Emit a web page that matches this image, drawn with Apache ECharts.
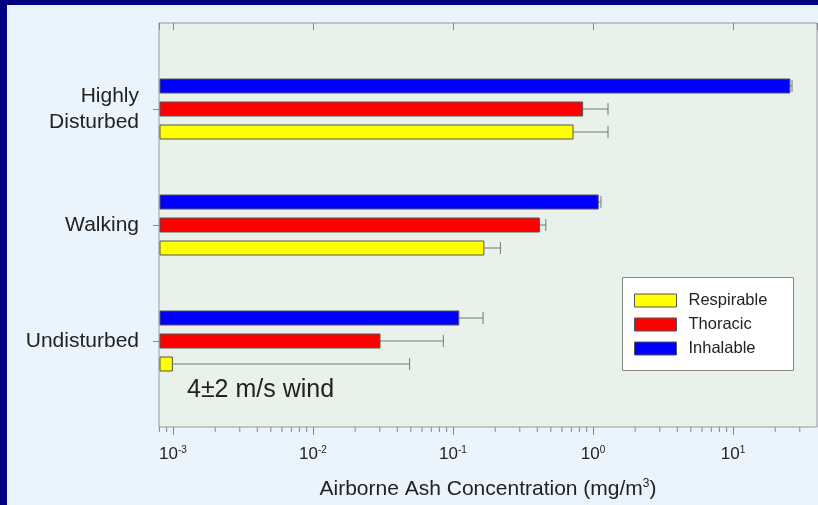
<!DOCTYPE html>
<html>
<head>
<meta charset="utf-8">
<script src="https://cdn.jsdelivr.net/npm/echarts@6/dist/echarts.min.js"></script>
<style>
  html, body { margin: 0; padding: 0; background: #000080; width: 818px; height: 505px; overflow: hidden; }
  #chart { position: absolute; left: 7px; top: 5px; width: 811px; height: 500px; background: #eaf4fc; }
</style>
</head>
<body>
<div id="chart"></div>
<script>
// ---- data (categories listed top to bottom) ----
const categories = ['Highly\nDisturbed', 'Walking', 'Undisturbed'];
const seriesNames = ['Respirable', 'Thoracic', 'Inhalable'];
const respirable      = [0.72, 0.166, 0.00099];
const respirableUpper = [1.28, 0.218, 0.049];
const thoracic        = [0.843, 0.414, 0.0301];
const thoracicUpper   = [1.28, 0.46, 0.0853];
const inhalable       = [25.5, 1.09, 0.110];
const inhalableUpper  = [26.4, 1.14, 0.164];
const xMin = Math.pow(10, -3.1);
const xMax = Math.pow(10, 1.6);
const majorDecades = [-4, -3, -2, -1, 0, 1];
const minorMultipliers = [2, 3, 4, 5, 6, 7, 8, 9];

// ---- layout constants ----
const FONT = '"Liberation Sans", Arial, Helvetica, sans-serif';
const BAR_H = 14;
const BAR_STEP = 23;
const CAP = 12;
const colors = ['#ffff00', '#ff0000', '#0000ff'];

const minorTicks = [];
majorDecades.forEach(function (d) {
  minorMultipliers.forEach(function (m) {
    const v = m * Math.pow(10, d);
    if (v > xMin && v < xMax) minorTicks.push([v, 0]);
  });
});

function makeRender(offset) {
  return function (params, api) {
    const v = api.value(0), c = api.value(1), up = api.value(2);
    const end = api.coord([v, c]);
    const hi = api.coord([up, c]);
    const y = end[1] + offset;
    const x0 = params.coordSys.x + 1;
    const col = api.visual('color');
    return {
      type: 'group',
      children: [
        { type: 'line', shape: { x1: end[0], y1: y, x2: hi[0], y2: y }, style: { stroke: '#777', lineWidth: 1 } },
        { type: 'line', shape: { x1: hi[0], y1: y - CAP / 2, x2: hi[0], y2: y + CAP / 2 }, style: { stroke: '#777', lineWidth: 1 } },
        { type: 'rect', shape: { x: x0, y: y - BAR_H / 2, width: end[0] - x0, height: BAR_H }, style: { fill: col, stroke: '#555', lineWidth: 1 } }
      ]
    };
  };
}

function barSeries(name, vals, uppers, color, offset) {
  return {
    name: name,
    type: 'custom',
    xAxisIndex: 1,
    yAxisIndex: 1,
    itemStyle: { color: color, borderColor: '#555', borderWidth: 1 },
    encode: { x: [0, 2], y: 1 },
    data: vals.map(function (v, i) { return [v, i, uppers[i]]; }),
    renderItem: makeRender(offset),
    z: 4
  };
}

const chart = echarts.init(document.getElementById('chart'), null, { renderer: 'canvas' });

const supRich = {
  b: { fontSize: 17, color: '#222', fontFamily: FONT },
  s: { fontSize: 10, color: '#222', fontFamily: FONT, padding: [0, 0, 9, 0] }
};

chart.setOption({
  animation: false,
  backgroundColor: 'transparent',
  textStyle: { fontFamily: FONT },
  grid: [
    { left: 152, top: 18, width: 658, height: 404, show: true, backgroundColor: '#e8f2ea', borderColor: '#999', borderWidth: 1 },
    { left: 152, top: 46, width: 658, height: 348 }
  ],
  xAxis: [
    {
      gridIndex: 0, type: 'log', logBase: 10, min: xMin, max: xMax, position: 'bottom',
      axisLine: { show: false },
      axisTick: { show: true, inside: false, length: 8, lineStyle: { color: '#888' } },
      splitLine: { show: false },
      axisLabel: {
        showMinLabel: false, showMaxLabel: false, margin: 18,
        formatter: function (v) { return '{b|10}{s|' + Math.round(Math.log10(v)) + '}'; },
        rich: supRich
      },
      name: '{n|Airborne Ash Concentration (mg/m}{s|3}{n|)}',
      nameLocation: 'middle', nameGap: 51,
      nameTextStyle: {
        rich: {
          n: { fontSize: 21, color: '#222', fontFamily: FONT },
          s: { fontSize: 12, color: '#222', fontFamily: FONT, padding: [0, 0, 10, 0] }
        }
      }
    },
    { gridIndex: 1, type: 'log', logBase: 10, min: xMin, max: xMax, show: false },
    {
      gridIndex: 0, type: 'log', logBase: 10, min: xMin, max: xMax, position: 'top',
      axisLine: { show: false },
      axisTick: { show: true, inside: true, length: 7, lineStyle: { color: '#888' } },
      axisLabel: { show: false },
      splitLine: { show: false }
    }
  ],
  yAxis: [
    { gridIndex: 0, type: 'value', min: 0, max: 1, show: false },
    {
      gridIndex: 1, type: 'category', data: categories, inverse: true,
      axisLine: { show: false },
      axisTick: { show: true, alignWithLabel: true, inside: false, length: 6, lineStyle: { color: '#888' } },
      axisLabel: { fontSize: 21, lineHeight: 26, margin: 20, color: '#222', fontFamily: FONT, align: 'right' },
      splitLine: { show: false }
    }
  ],
  legend: {
    orient: 'vertical', left: 627, top: 287, padding: 0,
    itemWidth: 42, itemHeight: 13, itemGap: 7, icon: 'rect', z: 10,
    textStyle: { fontSize: 16.5, color: '#222', fontFamily: FONT, padding: [0, 0, 0, 7] },
    data: seriesNames.map(function (n, i) {
      return { name: n, itemStyle: { color: colors[i], borderColor: '#555', borderWidth: 1 } };
    })
  },
  graphic: [
    { type: 'rect', left: 615, top: 272, shape: { width: 171, height: 93 }, style: { fill: '#fff', stroke: '#888', lineWidth: 1 }, z: 5 },
    { type: 'text', left: 180, top: 373, style: { text: '4±2 m/s wind', fontSize: 25, fill: '#222', fontFamily: FONT }, z: 5 }
  ],
  series: [
    {
      type: 'custom', name: 'minorTicks', xAxisIndex: 0, yAxisIndex: 0, silent: true,
      data: minorTicks,
      renderItem: function (params, api) {
        const p = api.coord([api.value(0), 0]);
        return { type: 'line', shape: { x1: p[0], y1: p[1], x2: p[0], y2: p[1] + 5 }, style: { stroke: '#888', lineWidth: 1 } };
      },
      z: 3
    },
    barSeries(seriesNames[0], respirable, respirableUpper, colors[0], BAR_STEP),
    barSeries(seriesNames[1], thoracic, thoracicUpper, colors[1], 0),
    barSeries(seriesNames[2], inhalable, inhalableUpper, colors[2], -BAR_STEP)
  ]
});
</script>
</body>
</html>
